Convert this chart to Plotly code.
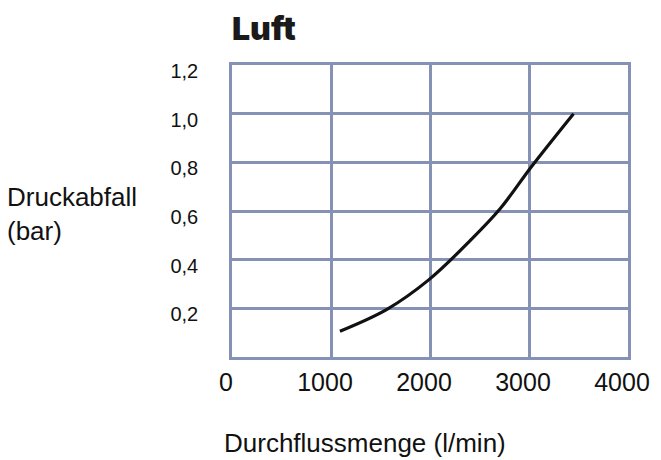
import plotly.graph_objects as go

# Data
flow = [1090, 1565, 1990, 2410, 2710, 3030, 3450]
pressure_drop = [0.106, 0.196, 0.318, 0.48, 0.61, 0.785, 1.0]

x_ticks = [0, 1000, 2000, 3000, 4000]
x_tick_labels = ["0", "1000", "2000", "3000", "4000"]
y_ticks = [0.2, 0.4, 0.6, 0.8, 1.0, 1.2]
y_tick_labels = ["0,2", "0,4", "0,6", "0,8", "1,0", "1,2"]

title_text = "Luft"
x_title = "Durchflussmenge (l/min)"
y_title = "Druckabfall<br>(bar)"

# page body has an 8px margin; compensate so the picture lands at target pixels
OFF = 8
W, H = 661 - OFF, 460 - OFF
L, R, T, B = 232 - OFF, 33, 65 - OFF, 103
pw, ph = W - L - R, H - T - B

grid_col = "#8591b5"
font_main = "Liberation Sans, Arial, sans-serif"

fig = go.Figure()
fig.add_trace(go.Scatter(
    x=flow, y=pressure_drop, mode="lines",
    line=dict(color="#111111", width=3.2, shape="spline", smoothing=1.0),
    hoverinfo="skip", showlegend=False,
))

fig.update_layout(
    width=W, height=H,
    margin=dict(l=L, r=R, t=T, b=B),
    paper_bgcolor="white", plot_bgcolor="white",
    showlegend=False,
    xaxis=dict(
        range=[0, 4000], tickvals=x_ticks, ticktext=x_tick_labels,
        showgrid=True, gridcolor=grid_col, gridwidth=2.5,
        showline=True, linecolor=grid_col, linewidth=2.5, mirror=True,
        zeroline=False, ticks="", ticklabelstandoff=1, ticklabelshift=-6,
        tickfont=dict(family=font_main, size=25, color="#111111"),
        fixedrange=True,
    ),
    yaxis=dict(
        range=[0, 1.2], tickvals=y_ticks, ticktext=y_tick_labels,
        showgrid=True, gridcolor=grid_col, gridwidth=2.5,
        showline=True, linecolor=grid_col, linewidth=2.5, mirror=True,
        zeroline=False, ticks="", ticklabelstandoff=27, ticklabelshift=6,
        tickfont=dict(family=font_main, size=20, color="#111111"),
        fixedrange=True,
    ),
)

def px_x(px):
    return (px - OFF - L) / pw

def px_y(py):
    return (H - B - (py - OFF)) / ph

fig.add_annotation(
    text=title_text, xref="paper", yref="paper",
    x=px_x(230), y=px_y(28), xanchor="left", yanchor="middle",
    showarrow=False,
    font=dict(family="Inter, Liberation Sans, sans-serif", weight=900,
              size=32, color="#1a1a1a"),
)
fig.add_annotation(
    text=x_title, xref="paper", yref="paper",
    x=px_x(222), y=px_y(443), xanchor="left", yanchor="middle",
    showarrow=False,
    font=dict(family=font_main, size=26, color="#111111"),
)
fig.add_annotation(
    text=y_title, xref="paper", yref="paper",
    x=px_x(5), y=px_y(214), xanchor="left", yanchor="middle",
    align="left", showarrow=False,
    font=dict(family=font_main, size=26, color="#111111"),
)

fig.write_html("out.html")
